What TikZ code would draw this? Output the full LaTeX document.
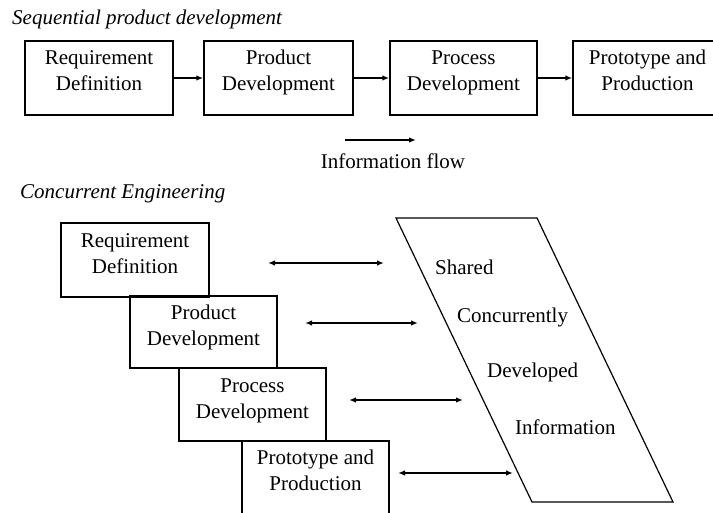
\documentclass[tikz,border=0pt]{standalone}
\usepackage{fontspec}
\setmainfont{Liberation Serif}
\usetikzlibrary{arrows.meta}
\tikzset{
  box/.style={draw, line width=1.5pt, minimum width=#1, minimum height=74pt, inner sep=0pt},
  box/.default=148pt,
  lbl/.style={inner sep=0pt, align=center, yshift=-2.5pt, font=\fontsize{21}{26}\selectfont},
  ttl/.style={inner sep=0pt, anchor=west, yshift=-2pt, font=\fontsize{21}{25}\selectfont\itshape},
  flow/.style={line width=1.4pt, -{Latex[length=7pt,width=5.5pt]}},
  both/.style={line width=1.4pt, {Latex[length=7pt,width=5.5pt]}-{Latex[length=7pt,width=5.5pt]}},
  para/.style={line width=1.2pt, line join=miter}
}
\begin{document}
\begin{tikzpicture}[x=1pt,y=-1pt]
\useasboundingbox[fill=white] (0,0) rectangle (713,513);
% Sequential
\node[ttl] (t1) at (12,18) {\strut Sequential product development};
\node[box=148pt] (s1) at (99,78) {};
\node[box=149pt] (s2) at (278.5,78) {};
\node[box=147pt] (s3) at (463.5,78) {};
\node[box=149pt] (s4) at (647.5,78) {};
\node[lbl] (s1t) at (99,70) {\strut Requirement\\Definition\strut};
\node[lbl] (s2t) at (278.5,70) {\strut Product\\Development\strut};
\node[lbl] (s3t) at (463.5,70) {\strut Process\\Development\strut};
\node[lbl] (s4t) at (647.5,70) {\strut Prototype and\\Production\strut};
\draw[flow] (s1) -- (s2);
\draw[flow] (s2) -- (s3);
\draw[flow] (s3) -- (s4);
\coordinate (if1) at (345,140);
\coordinate (if2) at (416,140);
\draw[flow] (if1) -- (if2);
\node[lbl] (ift) at (393,161) {\strut Information flow};
% Concurrent
\node[ttl] (t2) at (20,192) {\strut Concurrent Engineering};
\node[box=148pt] (c1) at (135,260) {};
\node[box=147pt, minimum height=72pt] (c2) at (203.5,332) {};
\node[box=147pt, minimum height=73pt] (c3) at (252.5,404.5) {};
\node[box=147pt, minimum height=79pt] (c4) at (315.5,480.5) {};
\node[lbl] (c1t) at (135,252.5) {\strut Requirement\\Definition\strut};
\node[lbl] (c2t) at (203.5,324.5) {\strut Product\\Development\strut};
\node[lbl] (c3t) at (252.5,397.5) {\strut Process\\Development\strut};
\node[lbl] (c4t) at (315.5,469.5) {\strut Prototype and\\Production\strut};
% parallelogram
\coordinate (p1) at (396,218);
\coordinate (p2) at (537,218);
\coordinate (p3) at (673,502);
\coordinate (p4) at (532,502);
\draw[para] (p1) -- (p2) -- (p3) -- (p4) -- cycle;
\node[lbl, anchor=west] (w1) at (435,267) {\strut Shared};
\node[lbl, anchor=west] (w2) at (457,315) {\strut Concurrently};
\node[lbl, anchor=west] (w3) at (487,370) {\strut Developed};
\node[lbl, anchor=west] (w4) at (515,427) {\strut Information};
% double arrows
\coordinate (a1l) at (268,263); \coordinate (a1r) at (384,263);
\coordinate (a2l) at (305,323); \coordinate (a2r) at (418,323);
\coordinate (a3l) at (349,400); \coordinate (a3r) at (463,400);
\coordinate (a4l) at (398,473); \coordinate (a4r) at (513,473);
\draw[both] (a1l) -- (a1r);
\draw[both] (a2l) -- (a2r);
\draw[both] (a3l) -- (a3r);
\draw[both] (a4l) -- (a4r);
\end{tikzpicture}
\end{document}
